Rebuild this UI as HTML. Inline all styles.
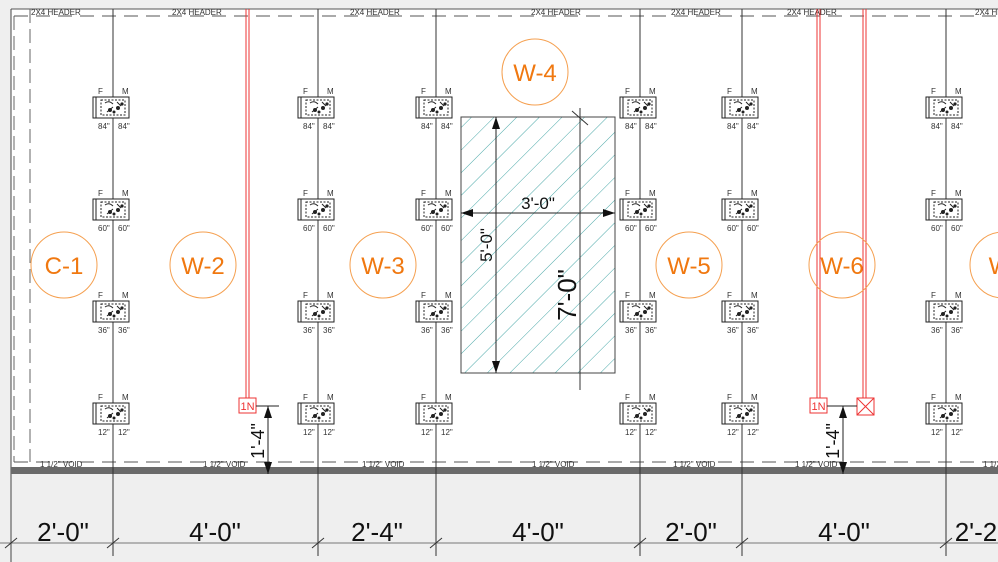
<!DOCTYPE html>
<html><head><meta charset="utf-8"><style>
html,body{margin:0;padding:0;background:#efefef;}
svg{display:block;font-family:"Liberation Sans",sans-serif;}
</style></head><body>
<svg width="998" height="562" viewBox="0 0 998 562" xmlns="http://www.w3.org/2000/svg">
<defs>
<pattern id="h" width="16" height="16" patternUnits="userSpaceOnUse" patternTransform="rotate(45)">
<line x1="0" y1="0" x2="0" y2="16" stroke="#4aa8a8" stroke-width="1"/>
</pattern>
<g id="dev">
<rect x="-20" y="0" width="36" height="21" fill="#fff" stroke="#222" stroke-width="1"/>
<line x1="-17" y1="0" x2="-17" y2="21" stroke="#222"/>
<rect x="-12" y="3" width="24" height="15" fill="none" stroke="#222" stroke-dasharray="2 1.5"/>
<circle cx="-3" cy="13" r="2" fill="#222"/><circle cx="5" cy="11" r="2" fill="#222"/><circle cx="9" cy="7" r="1.6" fill="#222"/><circle cx="1" cy="15" r="1.5" fill="#222"/>
<path d="M-8 6 q4 -3 8 1 M4 5 l4 4 M-6 15 l6 -5" stroke="#222" fill="none"/>
</g>
</defs>
<rect x="11" y="9" width="987" height="459" fill="#fff"/>
<line x1="11" y1="9" x2="998" y2="9" stroke="#555"/>
<line x1="11" y1="9" x2="11" y2="562" stroke="#444"/>
<line x1="14" y1="16" x2="14" y2="462" stroke="#666" stroke-dasharray="14 6"/>
<line x1="30" y1="9" x2="30" y2="462" stroke="#666" stroke-dasharray="14 6"/>
<line x1="14" y1="16" x2="998" y2="16" stroke="#555" stroke-dasharray="14 8"/>
<line x1="14" y1="462" x2="998" y2="462" stroke="#555" stroke-dasharray="14 8"/>
<rect x="11" y="467" width="987" height="7" fill="#6a6a6a"/>
<g font-size="8" fill="#333">
<text x="31" y="15">2X4 HEADER</text><text x="172" y="15">2X4 HEADER</text><text x="350" y="15">2X4 HEADER</text><text x="531" y="15">2X4 HEADER</text><text x="671" y="15">2X4 HEADER</text><text x="787" y="15">2X4 HEADER</text><text x="975" y="15">2X4 HEADER</text>
<text x="40" y="467">1 1/2" VOID</text><text x="203" y="467">1 1/2" VOID</text><text x="362" y="467">1 1/2" VOID</text><text x="532" y="467">1 1/2" VOID</text><text x="673" y="467">1 1/2" VOID</text><text x="795" y="467">1 1/2" VOID</text><text x="983" y="467">1 1/2" VOID</text>
</g>
<!-- hatched rect -->
<rect x="461" y="117" width="154" height="256" fill="url(#h)" stroke="#444"/>
<g stroke="#333" stroke-width="1">
<line x1="113" y1="9" x2="113" y2="556"/><line x1="318" y1="9" x2="318" y2="556"/><line x1="436" y1="9" x2="436" y2="556"/>
<line x1="640" y1="9" x2="640" y2="556"/><line x1="742" y1="9" x2="742" y2="556"/><line x1="946" y1="9" x2="946" y2="556"/>
<line x1="580" y1="108" x2="580" y2="390"/><line x1="572" y1="111" x2="588" y2="125"/>
<line x1="0" y1="543" x2="998" y2="543" stroke="#777"/>
</g>
<g stroke="#333">
<line x1="5" y1="548" x2="17" y2="538"/><line x1="107" y1="548" x2="119" y2="538"/><line x1="312" y1="548" x2="324" y2="538"/><line x1="430" y1="548" x2="442" y2="538"/><line x1="634" y1="548" x2="646" y2="538"/><line x1="736" y1="548" x2="748" y2="538"/><line x1="940" y1="548" x2="952" y2="538"/>
</g>
<g font-size="26" fill="#111" text-anchor="middle">
<text x="63" y="541">2'-0"</text><text x="215" y="541">4'-0"</text><text x="377" y="541">2'-4"</text><text x="538" y="541">4'-0"</text><text x="691" y="541">2'-0"</text><text x="844" y="541">4'-0"</text><text x="976" y="541">2'-2</text>
</g>
<!-- red lines -->
<g stroke="#e33" stroke-width="1">
<line x1="246" y1="9" x2="246" y2="398"/><line x1="249" y1="9" x2="249" y2="398"/>
<line x1="817" y1="9" x2="817" y2="398"/><line x1="820" y1="9" x2="820" y2="398"/>
<line x1="863" y1="9" x2="863" y2="398"/><line x1="866" y1="9" x2="866" y2="398"/>
</g>
<rect x="239" y="398" width="17" height="15" fill="#fff" stroke="#e33"/>
<text x="247.5" y="410" font-size="11" fill="#e33" text-anchor="middle">1N</text>
<rect x="810" y="398" width="17" height="15" fill="#fff" stroke="#e33"/>
<text x="818.5" y="410" font-size="11" fill="#e33" text-anchor="middle">1N</text>
<rect x="857" y="398" width="17" height="17" fill="#fff" stroke="#e33"/>
<path d="M857 398 L874 415 M874 398 L857 415" stroke="#e33"/>
<!-- 1'-4" dims -->
<g stroke="#222">
<line x1="256" y1="406" x2="279" y2="406"/><line x1="268" y1="406" x2="268" y2="474"/>
<line x1="827" y1="406" x2="857" y2="406"/><line x1="843" y1="406" x2="843" y2="474"/>
</g>
<g fill="#111">
<path d="M268 406 l-4 12 h8z M268 474 l-4 -12 h8z"/>
<path d="M843 406 l-4 12 h8z M843 474 l-4 -12 h8z"/>
</g>
<text transform="translate(264,441) rotate(-90)" font-size="18" text-anchor="middle" fill="#111">1'-4"</text>
<text transform="translate(839,441) rotate(-90)" font-size="18" text-anchor="middle" fill="#111">1'-4"</text>
<!-- rect dims -->
<g stroke="#222">
<line x1="461" y1="213" x2="615" y2="213"/><line x1="496" y1="117" x2="496" y2="373"/>
</g>
<g fill="#111">
<path d="M461 213 l12 -4 v8z M615 213 l-12 -4 v8z M496 117 l-4 12 h8z M496 373 l-4 -12 h8z"/>
</g>
<text x="538" y="209" font-size="17" text-anchor="middle" fill="#111">3'-0"</text>
<text transform="translate(492,245) rotate(-90)" font-size="17" text-anchor="middle" fill="#111">5'-0"</text>
<text transform="translate(576,295) rotate(-90)" font-size="26" text-anchor="middle" fill="#111">7'-0"</text>
<!-- circles -->
<g fill="none" stroke="#f5a050" stroke-width="1">
<circle cx="64" cy="265" r="33"/><circle cx="203" cy="265" r="33"/><circle cx="383" cy="265" r="33"/><circle cx="535" cy="72" r="33"/><circle cx="689" cy="265" r="33"/><circle cx="842" cy="265" r="33"/><circle cx="1003" cy="265" r="33"/>
</g>
<g font-size="24" fill="#f07810" text-anchor="middle">
<text x="64" y="274">C-1</text><text x="203" y="274">W-2</text><text x="383" y="274">W-3</text><text x="535" y="81">W-4</text><text x="689" y="274">W-5</text><text x="842" y="274">W-6</text><text x="1000" y="274">W</text>
</g>
<!-- devices -->
<g font-size="8" fill="#333">
<g id="col">
<use href="#dev" x="113" y="97"/><text x="98" y="94">F</text><text x="122" y="94">M</text><text x="98" y="129">84"</text><text x="118" y="129">84"</text>
<use href="#dev" x="113" y="199"/><text x="98" y="196">F</text><text x="122" y="196">M</text><text x="98" y="231">60"</text><text x="118" y="231">60"</text>
<use href="#dev" x="113" y="301"/><text x="98" y="298">F</text><text x="122" y="298">M</text><text x="98" y="333">36"</text><text x="118" y="333">36"</text>
<use href="#dev" x="113" y="403"/><text x="98" y="400">F</text><text x="122" y="400">M</text><text x="98" y="435">12"</text><text x="118" y="435">12"</text>
</g>
<use href="#col" x="205"/><use href="#col" x="323"/><use href="#col" x="527"/><use href="#col" x="629"/><use href="#col" x="833"/>
</g>
</svg>
</body></html>
